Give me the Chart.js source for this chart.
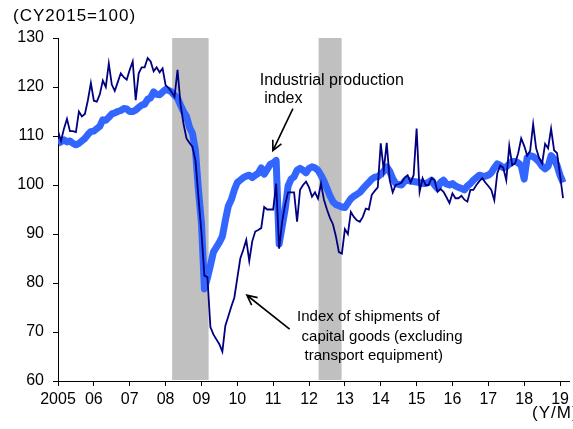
<!DOCTYPE html>
<html>
<head>
<meta charset="utf-8">
<script src="https://cdn.jsdelivr.net/npm/chart.js@4/dist/chart.umd.min.js"></script>
<style>
  html, body { margin: 0; padding: 0; background: #fff; }
  #wrap { width: 573px; height: 429px; }
</style>
</head>
<body>
<div id="wrap"><canvas id="chart" width="573" height="429"></canvas></div>
<script>
// monthly series, Jan 2005 .. Feb 2019 (CY2015=100)
const industrialProduction = [
  108.5, 108.8, 109.2, 108.8, 109.0, 108.5, 108.2, 108.5, 109.0, 109.5, 110.3, 110.9,
  111.0, 111.5, 112.0, 113.3, 113.2, 113.8, 114.5, 114.7, 115.0, 115.2, 115.6, 115.5,
  115.0, 115.0, 115.3, 115.8, 116.3, 116.5, 117.5, 117.8, 119.0, 118.5, 118.4, 119.0,
  119.5, 119.3, 119.0, 118.3, 117.7, 116.3, 115.0, 114.0, 111.8, 110.5, 107.0, 99.0,
  92.3, 78.8, 81.0, 83.6, 86.3, 87.3, 88.3, 89.5, 92.8, 95.7, 97.0, 99.0,
  100.5, 101.0, 101.5, 101.8, 102.0, 101.5, 102.0, 102.4, 103.5, 102.2, 103.2, 104.2,
  104.5, 105.0, 88.0, 91.5, 95.0, 99.8, 101.2, 101.7, 103.0, 103.4, 103.0, 102.5,
  103.4, 103.7, 103.5, 103.0, 102.0, 100.8, 99.3, 97.8, 96.6, 96.0, 95.8, 95.5,
  95.4, 96.3, 97.2, 97.7, 98.1, 98.5, 99.2, 99.9, 100.5, 101.2, 101.6, 101.7,
  102.2, 102.8, 103.7, 102.8, 101.3, 100.3, 100.1, 100.0, 100.8, 101.0, 100.8, 100.7,
  100.6, 100.5, 100.3, 100.3, 100.6, 101.0, 100.0, 99.3, 100.5, 101.0, 100.2, 100.0,
  100.3, 99.8, 99.5, 99.3, 99.0, 99.8, 100.3, 101.0, 101.5, 102.0, 101.8, 101.8,
  102.0, 102.5, 103.5, 104.3, 104.0, 103.5, 103.7, 104.3, 104.8, 104.8, 104.5, 104.0,
  101.2, 105.6, 106.0, 105.8, 105.3, 104.7, 103.8, 103.3, 103.8, 106.0, 105.3, 104.0,
  102.0, 100.5
]

const capitalGoodsShipments = [
  111.0, 109.0, 111.5, 113.5, 111.0, 111.0, 110.8, 115.0, 114.0, 114.5, 117.3, 120.8,
  117.2, 117.0, 118.5, 121.3, 120.0, 124.8, 120.5, 119.2, 121.0, 122.8, 122.0, 121.5,
  123.5, 125.2, 117.3, 122.8, 124.0, 124.0, 125.9, 125.2, 123.2, 124.0, 123.0, 123.8,
  120.4, 119.8, 119.0, 118.0, 123.5, 116.5, 112.5, 109.5, 108.6, 107.8, 105.0, 97.5,
  90.3, 81.5, 81.2, 71.0, 69.5, 68.5, 67.5, 66.0, 71.3, 73.2, 75.2, 77.0,
  81.0, 85.0, 86.8, 88.8, 84.5, 88.5, 90.5, 90.8, 91.2, 95.5, 95.0, 95.0,
  95.0, 100.3, 87.0, 92.5, 96.0, 98.5, 98.5, 98.5, 92.5, 99.0, 100.0, 100.7,
  99.5, 97.6, 98.5, 97.2, 100.3, 97.0, 95.0, 93.3, 92.0, 89.5, 86.3, 86.0,
  91.0, 90.0, 94.5, 93.5, 92.8, 92.5, 93.5, 95.2, 95.0, 98.0, 98.8, 99.5,
  108.5, 103.0, 108.6, 101.0, 98.5, 100.0, 100.2, 100.5, 101.5, 102.0, 100.5, 102.0,
  111.5, 98.6, 101.4, 100.0, 100.0, 101.4, 101.0, 98.6, 99.2, 98.6, 97.5, 96.3,
  98.3, 97.3, 97.3, 97.8, 97.0, 96.6, 99.0, 99.0, 100.0, 100.8, 101.4, 100.5,
  99.8, 99.0, 96.9, 102.4, 104.0, 103.5, 101.0, 108.0, 104.0, 104.5, 106.5, 109.5,
  108.0, 106.0, 107.0, 112.4, 107.5, 105.5, 104.4, 108.4, 107.5, 111.5, 107.1, 106.5,
  102.0, 97.3
]

// month index, 0 = Jan 2005
const months = industrialProduction.map((_, i) => i)

const yearTicks = [0, 12, 24, 36, 48, 60, 72, 84, 96, 108, 120, 132, 144, 156, 168]
const yearLabels = ["2005", "06", "07", "08", "09", "10", "11", "12", "13", "14", "15", "16", "17", "18", "19"]

// shaded periods (month index)
const shadeStart = [38.2, 87.2]
const shadeEnd = [50.4, 94.9]

const FONT = '"Liberation Sans", Arial, sans-serif'
Chart.defaults.font.family = FONT
Chart.defaults.font.size = 16
Chart.defaults.color = "#000"

const shadePlugin = {
  id: "shade",
  beforeDatasetsDraw(chart) {
    const { ctx, chartArea, scales: { x } } = chart
    ctx.save()
    ctx.fillStyle = "#c0c0c0"
    shadeStart.forEach((s, i) => {
      const x0 = x.getPixelForValue(s)
      const x1 = x.getPixelForValue(shadeEnd[i])
      ctx.fillRect(x0, chartArea.top, x1 - x0, chartArea.bottom - chartArea.top - 1)
    })
    ctx.restore()
  }
}

const arrow = (ctx, x0, y0, x1, y1) => {
  const a = Math.atan2(y1 - y0, x1 - x0)
  const h = 11
  ctx.beginPath()
  ctx.moveTo(x0, y0)
  ctx.lineTo(x1, y1)
  ctx.moveTo(x1 - h * Math.cos(a - 0.45), y1 - h * Math.sin(a - 0.45))
  ctx.lineTo(x1, y1)
  ctx.lineTo(x1 - h * Math.cos(a + 0.45), y1 - h * Math.sin(a + 0.45))
  ctx.stroke()
}

const notesPlugin = {
  id: "notes",
  afterDraw(chart) {
    const { ctx, scales: { x, y } } = chart
    const px = v => x.getPixelForValue(v)
    const py = v => y.getPixelForValue(v)
    ctx.save()
    ctx.fillStyle = "#000"
    ctx.strokeStyle = "#000"
    ctx.lineWidth = 1.6
    ctx.font = "16px " + FONT
    ctx.textBaseline = "alphabetic"

    ctx.fillText("Industrial production", px(67.5), py(120.4))
    ctx.fillText("index", px(69.0), py(116.7))
    arrow(ctx, px(78.6), py(115.6), px(71.9), py(107.0))

    ctx.font = "15px " + FONT
    ctx.fillText("Index of shipments of", px(80.0), py(72.2))
    ctx.fillText("capital goods (excluding", px(81.5), py(68.2))
    ctx.fillText("transport equipment)", px(82.5), py(64.3))
    arrow(ctx, px(77.5), py(70.6), px(63.2), py(77.5))

    ctx.font = "17px " + FONT
    ctx.letterSpacing = "1px"
    ctx.fillText("(CY2015=100)", 13, 21)
    ctx.fillText("(Y/M)", 532, 418)
    ctx.restore()
  }
}

new Chart(document.getElementById("chart"), {
  type: "line",
  data: {
    datasets: [
      {
        label: "Index of shipments of capital goods (excluding transport equipment)",
        data: months.map((m, i) => ({ x: m, y: capitalGoodsShipments[i] })),
        borderColor: "#000080",
        borderWidth: 1.8,
        order: 0
      },
      {
        label: "Industrial production index",
        data: months.map((m, i) => ({ x: m, y: industrialProduction[i] })),
        borderColor: "#3366ff",
        borderWidth: 7,
        borderJoinStyle: "round",
        order: 1
      }
    ]
  },
  options: {
    responsive: false,
    animation: false,
    layout: { padding: { top: 38, right: 3, left: 0, bottom: 0 } },
    elements: {
      point: { radius: 0 },
      line: { tension: 0 }
    },
    plugins: {
      legend: { display: false },
      tooltip: { enabled: false }
    },
    scales: {
      x: {
        type: "linear",
        min: 0,
        max: 171,
        afterFit: s => { s.height = 48 },
        afterBuildTicks: s => { s.ticks = yearTicks.map(v => ({ value: v })) },
        ticks: {
          autoSkip: false,
          maxRotation: 0,
          padding: 4,
          callback: (v, i) => yearLabels[i]
        },
        grid: { drawOnChartArea: false, color: "#000", tickLength: 5 },
        border: { color: "#000", width: 1 }
      },
      y: {
        min: 60,
        max: 130,
        afterFit: s => { s.width = 58 },
        ticks: { stepSize: 10, padding: 9 },
        grid: { drawOnChartArea: false, color: "#000", tickLength: 5 },
        border: { color: "#000", width: 1 }
      }
    }
  },
  plugins: [shadePlugin, notesPlugin]
})
</script>
</body>
</html>
